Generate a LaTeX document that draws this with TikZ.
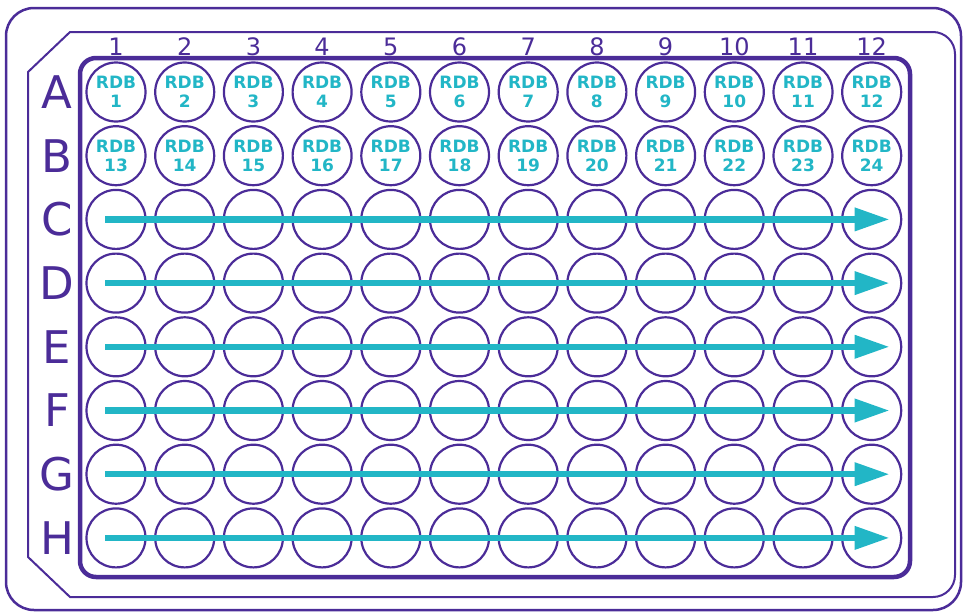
\documentclass[tikz,border=0pt]{standalone}
\usepackage{fontspec}
\setmainfont{DejaVu Sans}
\usetikzlibrary{arrows.meta}
\definecolor{plate}{HTML}{4B2C98}
\definecolor{tealx}{HTML}{22B6C6}
\begin{document}
\begin{tikzpicture}[x=1pt,y=-1pt,
  well/.style={circle,draw=plate,line width=2.2pt,minimum size=59pt,inner sep=0pt},
  rdb/.style={well,text=tealx,font=\fontsize{17}{19}\selectfont\bfseries,align=center},
  rowlab/.style={text=plate,font=\fontsize{45}{45}\selectfont,inner sep=0pt},
  collab/.style={text=plate,font=\fontsize{24}{24}\selectfont,inner sep=0pt,anchor=base},
  flow/.style={draw=tealx,line width=6.5pt,-{Triangle[length=35pt,width=22pt]}}]
\useasboundingbox (0,0) rectangle (964,613);
% outer card
\draw[plate,line width=2.5pt,rounded corners=28pt] (6,8) rectangle (961,610);
% plate outline with chamfered corners
\draw[plate,line width=2pt] (70,597) -- (28,557) -- (28,72) -- (70,32) -- (933,32)
  arc[start angle=90,end angle=0,radius=22pt] -- (955,575)
  arc[start angle=0,end angle=-90,radius=22pt] -- cycle;
% thick frame
\draw[plate,line width=4.5pt,rounded corners=16pt] (80,58) rectangle (910,577);
% column numbers
\foreach \c in {1,...,12}{
  \node[collab] (col\c) at ({116+68.7*(\c-1)},55) {\c};
}
% row letters and wells
\foreach \r/\L in {1/A,2/B,3/C,4/D,5/E,6/F,7/G,8/H}{
  \node[rowlab] (row\L) at (57,{92+63.7*(\r-1)}) {\L};
  \foreach \c in {1,...,12}{
    \ifnum\r<3
      \pgfmathtruncatemacro\n{(\r-1)*12+\c}
      \node[rdb] (w-\r-\c) at ({116+68.7*(\c-1)},{92+63.7*(\r-1)}) {RDB\\\n};
    \else
      \node[well] (w-\r-\c) at ({116+68.7*(\c-1)},{92+63.7*(\r-1)}) {};
    \fi
  }
}
% arrows
\foreach \r in {3,...,8}{
  \draw[flow] ([xshift=-11pt]w-\r-1.center) -- ([xshift=18pt]w-\r-12.center);
}
\end{tikzpicture}
\end{document}
